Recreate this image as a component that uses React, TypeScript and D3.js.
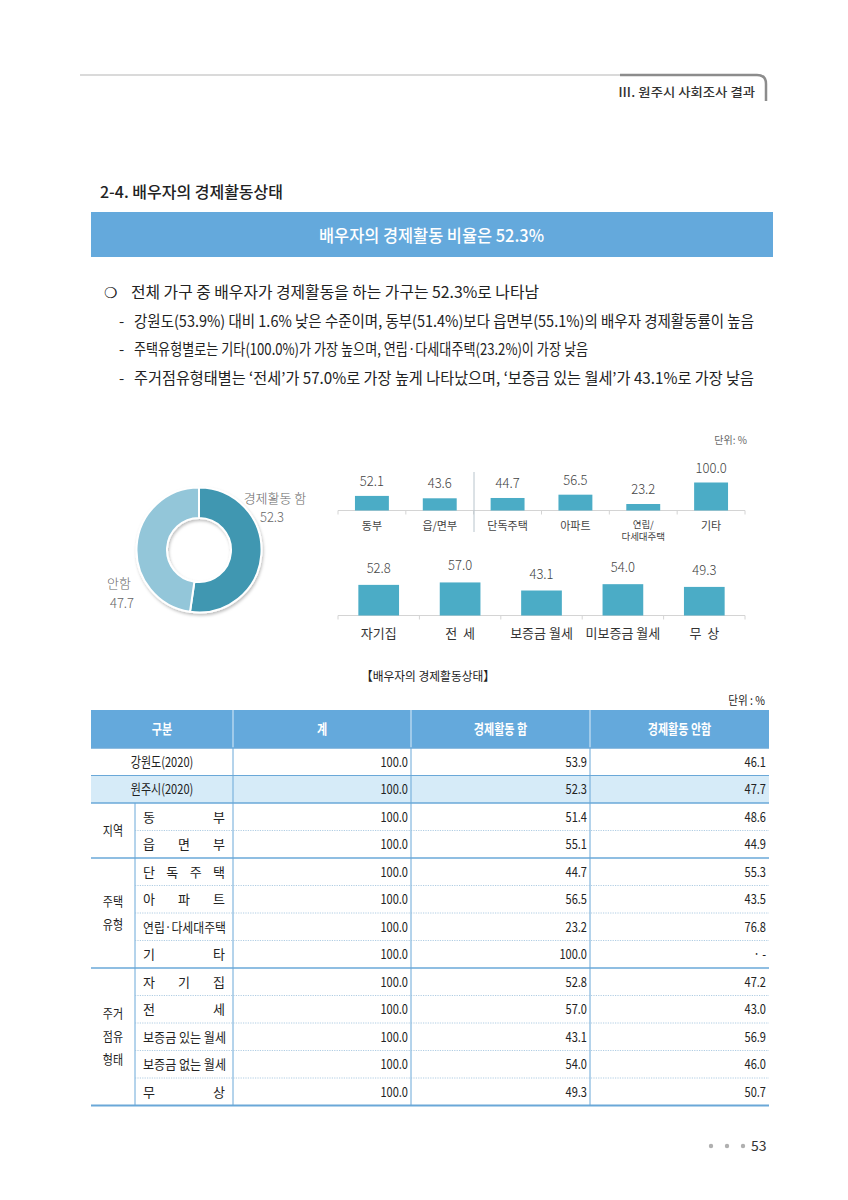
import React from 'react';
import * as d3 from 'd3';

// donut
const donutLabels = ['경제활동 함', '안함'];
const donutValues = [52.3, 47.7];

// top bars: region + housing type
const topCats = ['동부', '읍/면부', '단독주택', '아파트', '연립/|다세대주택', '기타'];
const topValues = [52.1, 43.6, 44.7, 56.5, 23.2, 100.0];

// bottom bars: tenure
const bottomCats = ['자기집', '전  세', '보증금 월세', '미보증금 월세', '무  상'];
const bottomValues = [52.8, 57.0, 43.1, 54.0, 49.3];

// table
const tableGroups = ['', '', '지역', '지역', '주택|유형', '주택|유형', '주택|유형', '주택|유형', '주거|점유|형태', '주거|점유|형태', '주거|점유|형태', '주거|점유|형태', '주거|점유|형태'];
const tableItems = ['강원도(2020)', '원주시(2020)', '동부', '읍면부', '단독주택', '아파트', '연립·다세대주택', '기타', '자기집', '전세', '보증금 있는 월세', '보증금 없는 월세', '무상'];
const tableTotal = ['100.0', '100.0', '100.0', '100.0', '100.0', '100.0', '100.0', '100.0', '100.0', '100.0', '100.0', '100.0', '100.0'];
const tableYes = ['53.9', '52.3', '51.4', '55.1', '44.7', '56.5', '23.2', '100.0', '52.8', '57.0', '43.1', '54.0', '49.3'];
const tableNo = ['46.1', '47.7', '48.6', '44.9', '55.3', '43.5', '76.8', '· -', '47.2', '43.0', '56.9', '46.0', '50.7'];
const tableHeaders = ['구분', '계', '경제활동 함', '경제활동 안함'];

const bullets = [
  '전체 가구 중 배우자가 경제활동을 하는 가구는 52.3%로 나타남',
  '강원도(53.9%) 대비 1.6% 낮은 수준이며, 동부(51.4%)보다 읍면부(55.1%)의 배우자 경제활동률이 높음',
  '주택유형별로는 기타(100.0%)가 가장 높으며, 연립·다세대주택(23.2%)이 가장 낮음',
  '주거점유형태별는 ‘전세’가 57.0%로 가장 높게 나타났으며, ‘보증금 있는 월세’가 43.1%로 가장 낮음',
];

const FONT = '"Noto Sans CJK KR", "Noto Sans", sans-serif';
const BLUE = '#64a9dc';
const BAR = '#4bacc6';
const LINE = '#6aa8d8';

// condensed text helper
function CT({ x, y, sx = 0.82, anchor = 'start', size = 12, fill = '#222', weight = 400, children }: any) {
  return (
    <text transform={`translate(${x},${y}) scale(${sx},1)`} textAnchor={anchor} fontSize={size}
      fill={fill} fontWeight={weight}>{children}</text>
  );
}

export default function App() {
  // donut
  const pie = d3.pie<number>().sort(null)(donutValues);
  const arc = d3.arc<d3.PieArcDatum<number>>().innerRadius(32).outerRadius(62.5);
  const donutColors = ['#3f97b1', '#93c6d9'];

  // top chart
  const topX = d3.scaleBand<string>().domain(topCats).range([338, 745]).paddingInner(0.5).paddingOuter(0.25);
  const topBase = 510.5;
  const topY = d3.scaleLinear().domain([0, 100]).range([topBase, topBase - 28]);
  const topStep = topX.step();
  const topStart = 338;

  // bottom chart
  const botX = d3.scaleBand<string>().domain(bottomCats).range([338, 745]).paddingInner(0.5).paddingOuter(0.25);
  const botBase = 615.5;
  const botY = d3.scaleLinear().domain([0, 100]).range([botBase, botBase - 58]);
  const botStep = botX.step();

  // table
  const rowH = 27.5;
  const tTop = 748;
  const colX = [91, 233, 411, 590, 769];
  const rowY = d3.scaleLinear().domain([0, 1]).range([tTop, tTop + rowH]);
  const groupStart = [2, 4, 8];
  const groupEnd = [3, 7, 12];
  const tBottom = rowY(tableItems.length);

  return (
    <svg width={848} height={1200} style={{ position: 'absolute', left: 0, top: 0, background: '#fff' }} fontFamily={FONT}>
      <defs>
        <filter id="sh" x="-20%" y="-20%" width="140%" height="140%">
          <feDropShadow dx="1" dy="2" stdDeviation="1.5" floodColor="#000" floodOpacity="0.25" />
        </filter>
      </defs>

      {/* page header */}
      <line x1={80} x2={622} y1={75} y2={75} stroke="#b5b5b5" strokeWidth={1.2} />
      <path d="M620,75 H757 Q766,75 766,84 V101" fill="none" stroke="#8c8c8c" strokeWidth={2.5} />
      <text x={618} y={97} fontSize={12.5} fontWeight={500} fill="#333" textLength={137} lengthAdjust="spacingAndGlyphs">Ⅲ. 원주시 사회조사 결과</text>

      {/* section title */}
      <text x={100} y={198} fontSize={16} fontWeight={500} fill="#222" textLength={183} lengthAdjust="spacingAndGlyphs">2-4. 배우자의 경제활동상태</text>
      <rect x={91} y={212} width={682} height={45} fill={BLUE} />
      <text x={319} y={242} fontSize={17.5} fontWeight={500} fill="#fff" textLength={225} lengthAdjust="spacingAndGlyphs">배우자의 경제활동 비율은 52.3%</text>

      {/* bullets */}
      <text x={104} y={298} fontSize={15} fill="#222">❍</text>
      {bullets.map((b, i) => {
        const y = [298, 327, 355, 384][i];
        const len = [408, 620, 454, 620][i];
        return (
          <g key={i}>
            {i > 0 && <text x={119} y={y} fontSize={15} fill="#222">-</text>}
            <text x={i === 0 ? 131 : 134} y={y} fontSize={15.5} fill="#222" textLength={len} lengthAdjust="spacingAndGlyphs">{b}</text>
          </g>
        );
      })}

      {/* donut */}
      <g transform="translate(199,550)" filter="url(#sh)">
        {pie.map((p, i) => (
          <path key={i} d={arc(p) || ''} fill={donutColors[i]} stroke="#fff" strokeWidth={2} />
        ))}
      </g>
      <text x={275} y={503} fontSize={13} fill="#666" textAnchor="middle" fontWeight={300}>{donutLabels[0]}</text>
      <text x={272} y={522} fontSize={13} fill="#666" textAnchor="middle" fontWeight={300}>{donutValues[0].toFixed(1)}</text>
      <text x={119} y={588} fontSize={13} fill="#666" textAnchor="middle" fontWeight={300}>{donutLabels[1]}</text>
      <text x={122} y={608} fontSize={13} fill="#666" textAnchor="middle" fontWeight={300}>{donutValues[1].toFixed(1)}</text>

      {/* unit */}
      <text x={747} y={444} fontSize={10} fill="#666" textAnchor="end">단위: %</text>

      {/* top bar chart */}
      <line x1={338} x2={745} y1={topBase} y2={topBase} stroke="#d4d4d4" strokeWidth={1} />
      {d3.range(topCats.length + 1).map(i => (
        <line key={i} x1={topStart + i * topStep} x2={topStart + i * topStep} y1={topBase} y2={topBase + 4} stroke="#d4d4d4" />
      ))}
      <line x1={474} x2={474} y1={472} y2={532} stroke="#b8c4cc" strokeWidth={1} />
      {topCats.map((c, i) => {
        const x = topX(c)!;
        const cx = x + topX.bandwidth() / 2;
        const parts = c.split('|');
        return (
          <g key={c}>
            <rect x={x} y={topY(topValues[i])} width={topX.bandwidth()} height={topBase - topY(topValues[i])} fill={BAR} />
            <text x={cx} y={topY(topValues[i]) - 10} fontSize={13} fill="#444" textAnchor="middle" fontWeight={300}>{topValues[i].toFixed(1)}</text>
            {parts.map((p, j) => (
              <text key={j} x={cx} y={parts.length > 1 ? 528 + j * 12 : 530} fontSize={parts.length > 1 ? 9.5 : 11} fill="#444" textAnchor="middle">{p}</text>
            ))}
          </g>
        );
      })}

      {/* bottom bar chart */}
      <line x1={338} x2={745} y1={botBase} y2={botBase} stroke="#d4d4d4" strokeWidth={1} />
      {d3.range(bottomCats.length + 1).map(i => (
        <line key={i} x1={338 + i * botStep} x2={338 + i * botStep} y1={botBase} y2={botBase + 4} stroke="#d4d4d4" />
      ))}
      {bottomCats.map((c, i) => {
        const x = botX(c)!;
        const cx = x + botX.bandwidth() / 2;
        return (
          <g key={c}>
            <rect x={x} y={botY(bottomValues[i])} width={botX.bandwidth()} height={botBase - botY(bottomValues[i])} fill={BAR} />
            <text x={cx} y={botY(bottomValues[i]) - 12} fontSize={13} fill="#444" textAnchor="middle" fontWeight={300}>{bottomValues[i].toFixed(1)}</text>
            <text x={cx} y={638} fontSize={13} fill="#333" textAnchor="middle" style={{ whiteSpace: 'pre' }}>{c}</text>
          </g>
        );
      })}

      {/* table caption */}
      <text x={361} y={681} fontSize={12.5} fill="#222" textLength={134} lengthAdjust="spacingAndGlyphs">【배우자의 경제활동상태】</text>
      <CT x={765} y={705} size={12} anchor="end" sx={0.88}>단위 : %</CT>

      {/* table header */}
      <rect x={91} y={710} width={678} height={38} fill={BLUE} />
      {tableHeaders.map((h, i) => (
        <CT key={h} x={(colX[i] + colX[i + 1]) / 2} y={734} size={13.5} weight={700} anchor="middle" fill="#fff" sx={0.82}>{h}</CT>
      ))}
      {[233, 411, 590].map(x => (
        <line key={x} x1={x} x2={x} y1={710} y2={748} stroke="#dcecf8" strokeWidth={1} />
      ))}

      {/* highlighted row */}
      <rect x={91} y={rowY(1)} width={678} height={rowH} fill="#d6ebf8" />

      {/* table body lines */}
      {[233, 411, 590].map(x => (
        <line key={x} x1={x} x2={x} y1={748} y2={tBottom} stroke={LINE} strokeWidth={1} />
      ))}
      <line x1={135} x2={135} y1={rowY(2)} y2={tBottom} stroke={LINE} strokeWidth={1} />
      <line x1={91} x2={769} y1={748} y2={748} stroke={LINE} strokeWidth={1.5} />
      <line x1={91} x2={769} y1={rowY(1)} y2={rowY(1)} stroke={LINE} strokeWidth={1} />
      {[2, 4, 8].map(r => (
        <line key={r} x1={91} x2={769} y1={rowY(r)} y2={rowY(r)} stroke={LINE} strokeWidth={1.5} />
      ))}
      {tableItems.map((_, r) => (
        r >= 2 && !groupStart.includes(r) ? (
          <line key={r} x1={135} x2={769} y1={rowY(r)} y2={rowY(r)} stroke="#9cc0dc" strokeWidth={0.8} strokeDasharray="1.2,1.2" />
        ) : null
      ))}
      <line x1={91} x2={769} y1={tBottom} y2={tBottom} stroke={LINE} strokeWidth={2.2} />

      {/* group labels */}
      {groupStart.map((s, g) => {
        const parts = tableGroups[s].split('|');
        const mid = (rowY(s) + rowY(groupEnd[g] + 1)) / 2;
        return parts.map((p, j) => (
          <CT key={g + '-' + j} x={113} y={mid + 4.5 + (j - (parts.length - 1) / 2) * 23} size={13} anchor="middle" sx={0.85}>{p}</CT>
        ));
      })}

      {/* table rows */}
      {tableItems.map((item, r) => {
        const y = rowY(r) + rowH / 2 + 5;
        const spread = r >= 2 && !item.includes(' ') && !item.includes('·');
        return (
          <g key={item}>
            {r < 2 ? (
              <CT x={162} y={y} size={13.5} anchor="middle" sx={0.82}>{item}</CT>
            ) : spread ? (
              <text x={143} y={y} fontSize={13} fill="#222" textLength={82} lengthAdjust="spacing">{item}</text>
            ) : (
              <text x={143} y={y} fontSize={13} fill="#222" textLength={83} lengthAdjust="spacingAndGlyphs">{item}</text>
            )}
            <CT x={408} y={y} size={13.5} anchor="end" sx={0.82}>{tableTotal[r]}</CT>
            <CT x={587} y={y} size={13.5} anchor="end" sx={0.82}>{tableYes[r]}</CT>
            <CT x={766} y={y} size={13.5} anchor="end" sx={0.82}>{tableNo[r]}</CT>
          </g>
        );
      })}

      {/* page number */}
      {[711, 727, 743].map(x => (
        <circle key={x} cx={x} cy={1146} r={2.2} fill="#b0b0b0" />
      ))}
      <text x={751} y={1151} fontSize={14} fill="#333">53</text>
    </svg>
  );
}
